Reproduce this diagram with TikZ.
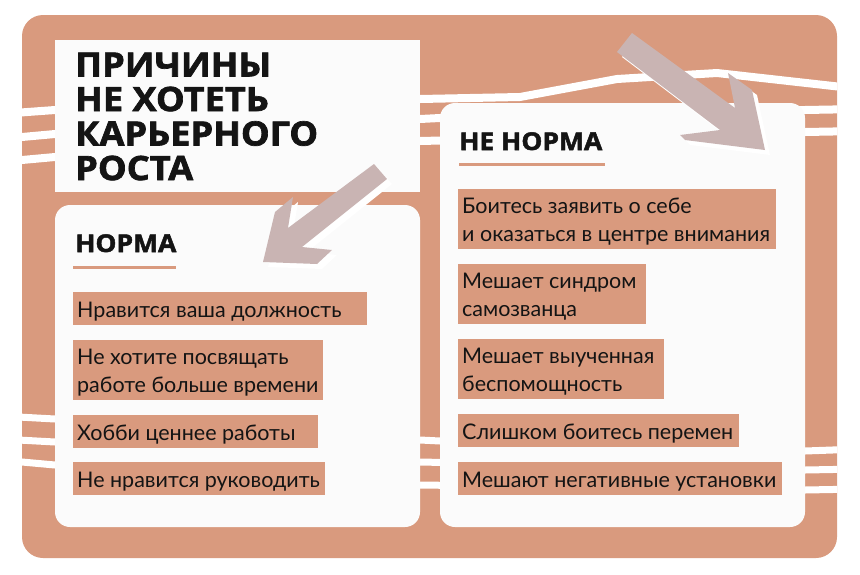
\documentclass[tikz,border=0pt]{standalone}
\usepackage{fontspec}
\setmainfont{Lato}
\newfontfamily\headfont{Open Sans}[BoldFeatures={FakeBold=2,FakeStretch=1.08}]
\newfontfamily\bodyfont{Lato}
\definecolor{terra}{HTML}{D99A7E}
\definecolor{arrowc}{HTML}{C9B4B3}
\definecolor{boxw}{HTML}{FBFBFB}
\definecolor{ink}{HTML}{141414}
\tikzset{
  stripe/.style={draw=white, line width=8pt, line join=round},
  panel/.style={fill=boxw, rounded corners=15pt},
  hl/.style={fill=terra},
  body/.style={font=\bodyfont\fontsize{21.5}{27.5}\selectfont, text=ink, anchor=base west, inner sep=0pt, align=left},
  head/.style={font=\headfont\bfseries\fontsize{24.5}{28}\selectfont, text=ink, anchor=base west, inner sep=0pt},
  ttl/.style={font=\headfont\bfseries\fontsize{33.5}{34.5}\selectfont, text=ink, anchor=base west, inner sep=0pt, align=left},
  uline/.style={draw=terra, line width=3pt},
  arrowshape/.style={fill=arrowc},
  arrowshadow/.style={fill=white},
}
\begin{document}
\begin{tikzpicture}[x=1pt,y=-1pt]
\useasboundingbox (0,0) rectangle (860,574);
% background
\fill[terra, rounded corners=21pt] (22,15) rectangle (837,558);
% stripes
\begin{scope}
\clip[rounded corners=21pt] (22,15) rectangle (837,558);
\draw[stripe] (0,114) -- (55,110) -- (420,99) -- (520,97) -- (617,79) -- (717,73) -- (860,89);
\draw[stripe] (0,139) -- (55,134) -- (420,119) -- (440,118) -- (805,110) -- (860,109);
\draw[stripe] (0,162) -- (55,157) -- (420,141) -- (805,132) -- (860,131);
\draw[stripe, line width=7pt] (0,416) -- (55,419) -- (420,440) -- (440,441) -- (805,451) -- (860,449);
\draw[stripe, line width=7pt] (0,439) -- (55,442) -- (420,462) -- (805,470) -- (860,469);
\draw[stripe, line width=7pt] (0,460) -- (55,465) -- (420,485) -- (805,490) -- (860,489);
\end{scope}
% panels
\fill[boxw] (55,40) rectangle (420,192);
\fill[panel] (55,205) rectangle (420,527);
\fill[panel] (440,103) rectangle (805,527);
% title (base = last line)
\node[ttl] (title) at (75,180) {ПРИЧИНЫ\\НЕ ХОТЕТЬ\\КАРЬЕРНОГО\\РОСТА};
% headings
\node[head] (norma) at (75,252) {НОРМА};
\draw[uline] (73,267) -- (176,267);
\node[head] (nenorma) at (459,150) {НЕ НОРМА};
\draw[uline] (459,164) -- (605,164);
% left items
\fill[hl] (73,292) rectangle (367,325);
\node[body] (l1) at (77,317) {Нравится ваша должность};
\fill[hl] (73,340) rectangle (323,400);
\node[body] (l2) at (77,392) {Не хотите посвящать\\работе больше времени};
\fill[hl] (73,415) rectangle (318,448);
\node[body] (l3) at (77,440) {Хобби ценнее работы};
\fill[hl] (73,462) rectangle (325,495);
\node[body] (l4) at (77,487) {Не нравится руководить};
% right items
\fill[hl] (458,189) rectangle (776,249);
\node[body] (r1) at (462,241) {Боитесь заявить о себе\\и оказаться в центре внимания};
\fill[hl] (458,264) rectangle (646,324);
\node[body] (r2) at (462,316) {Мешает синдром\\самозванца};
\fill[hl] (458,339) rectangle (664,399);
\node[body] (r3) at (462,391) {Мешает выученная\\беспомощность};
\fill[hl] (458,414) rectangle (739,447);
\node[body] (r4) at (462,439) {Слишком боитесь перемен};
\fill[hl] (458,462) rectangle (782,495);
\node[body] (r5) at (462,487) {Мешают негативные установки};
% arrow 1 (down-left)
\begin{scope}[shift={(5,5)}]
\fill[arrowshadow] (374,164) -- (288,228) -- (293,197) -- (275,212) -- (263,262) -- (317,264) -- (332,250) -- (302,247) -- (387,179) -- cycle;
\end{scope}
\fill[arrowshape] (374,164) -- (288,228) -- (293,197) -- (275,212) -- (263,262) -- (317,264) -- (332,250) -- (302,247) -- (387,179) -- cycle;
% arrow 2 (down-right)
\begin{scope}[shift={(5,5)}]
\fill[arrowshadow] (632,33) -- (735,108) -- (728,73) -- (752,90) -- (765,150) -- (685,140) -- (680,135) -- (720,130) -- (617,52) -- cycle;
\end{scope}
\fill[arrowshape] (632,33) -- (735,108) -- (728,73) -- (752,90) -- (765,150) -- (685,140) -- (680,135) -- (720,130) -- (617,52) -- cycle;
\end{tikzpicture}
\end{document}
